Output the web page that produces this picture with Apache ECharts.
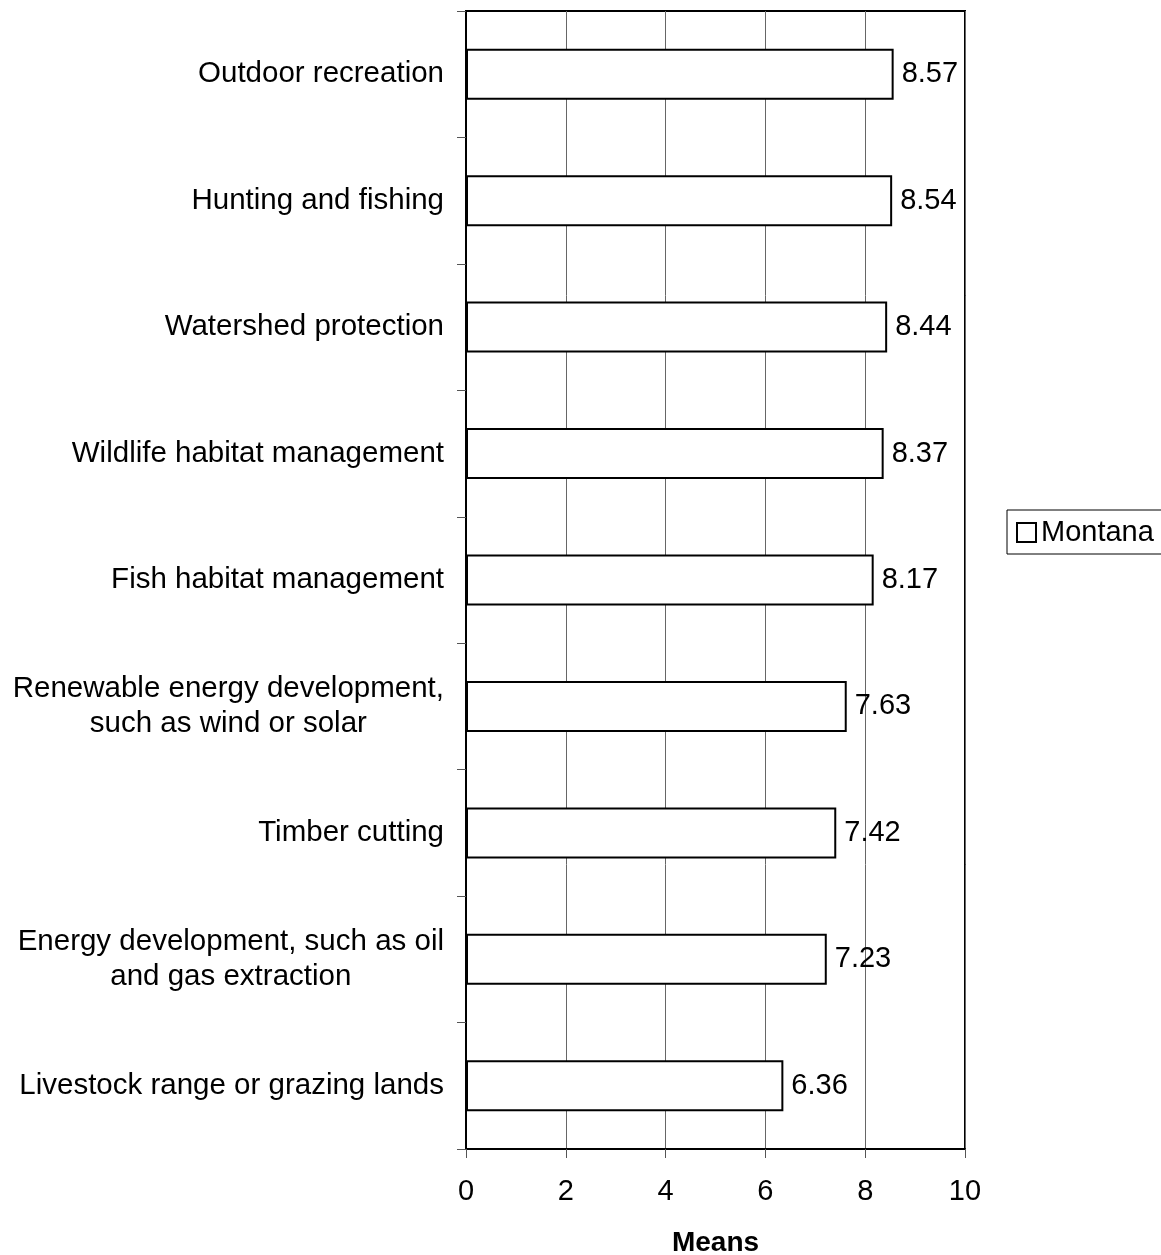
<!DOCTYPE html>
<html>
<head>
<meta charset="utf-8">
<script src="https://cdn.jsdelivr.net/npm/echarts@6/dist/echarts.min.js"></script>
<style>
  html, body { margin: 0; padding: 0; background: #fff; }
  #chart { width: 1161px; height: 1255px; }
</style>
</head>
<body>
<div id="chart"></div>
<script>
// categories, top to bottom
const categories = [
  'Outdoor recreation',
  'Hunting and fishing',
  'Watershed protection',
  'Wildlife habitat management',
  'Fish habitat management',
  'Renewable energy development,\nsuch as wind or solar',
  'Timber cutting',
  'Energy development, such as oil\nand gas extraction',
  'Livestock range or grazing lands'
]
// means for Montana
const montana = [8.57, 8.54, 8.44, 8.37, 8.17, 7.63, 7.42, 7.23, 6.36]
const seriesName = 'Montana'
const axisTitle = 'Means'

const chart = echarts.init(document.getElementById('chart'))

const fontFamily = '"Liberation Sans", Arial, sans-serif'

const option = {
  backgroundColor: '#fff',
  animation: false,
  textStyle: { fontFamily: fontFamily },
  grid: {
    left: 466,
    right: 196,
    top: 11,
    bottom: 106,
    containLabel: false,
    outerBoundsMode: 'none',
    show: true,
    borderColor: '#000',
    borderWidth: 2,
    backgroundColor: 'transparent'
  },
  legend: {
    data: [seriesName],
    left: 1007,
    top: 510,
    orient: 'vertical',
    padding: [8, 12, 7, 9],
    borderColor: '#000',
    borderWidth: 1,
    itemWidth: 19,
    itemHeight: 19,
    icon: 'rect',
    itemStyle: { color: '#fff', borderColor: '#000', borderWidth: 2 },
    textStyle: { fontSize: 29, color: '#000', fontFamily: fontFamily }
  },
  xAxis: {
    type: 'value',
    min: 0,
    max: 10,
    interval: 2,
    name: axisTitle,
    nameLocation: 'middle',
    nameGap: 80,
    nameTextStyle: { fontSize: 28, fontWeight: 'bold', color: '#000' },
    axisLine: { show: true, lineStyle: { color: '#000', width: 2 } },
    axisTick: { show: true, length: 9, lineStyle: { color: '#555', width: 1 } },
    axisLabel: { fontSize: 29, color: '#000', margin: 28 },
    splitLine: { show: true, lineStyle: { color: '#666', width: 1 } }
  },
  yAxis: {
    type: 'category',
    data: categories,
    inverse: true,
    axisLine: { show: true, lineStyle: { color: '#000', width: 2 } },
    axisTick: { show: true, length: 9, alignWithLabel: false, lineStyle: { color: '#555', width: 1 } },
    axisLabel: {
      color: '#000',
      fontSize: 29.5,
      margin: 22,
      // two-line labels: lines centred on each other
      formatter: function (v) {
        const lines = v.split('\n')
        if (lines.length === 1) return '{s|' + v + '}'
        return lines.map(s => '{c|' + s + '}').join('\n')
      },
      rich: {
        s: { fontSize: 29.5, color: '#000', fontFamily: fontFamily },
        c: { align: 'center', fontSize: 29.5, lineHeight: 35, color: '#000', fontFamily: fontFamily }
      }
    },
    splitLine: { show: false }
  },
  series: [
    {
      name: seriesName,
      type: 'bar',
      data: montana,
      barWidth: 51,
      itemStyle: { color: '#fff', borderColor: '#000', borderWidth: 2 },
      label: {
        show: true,
        position: 'right',
        distance: 8,
        fontSize: 29,
        color: '#000',
        formatter: p => p.value.toFixed(2)
      }
    }
  ]
}

chart.setOption(option)
</script>
</body>
</html>
